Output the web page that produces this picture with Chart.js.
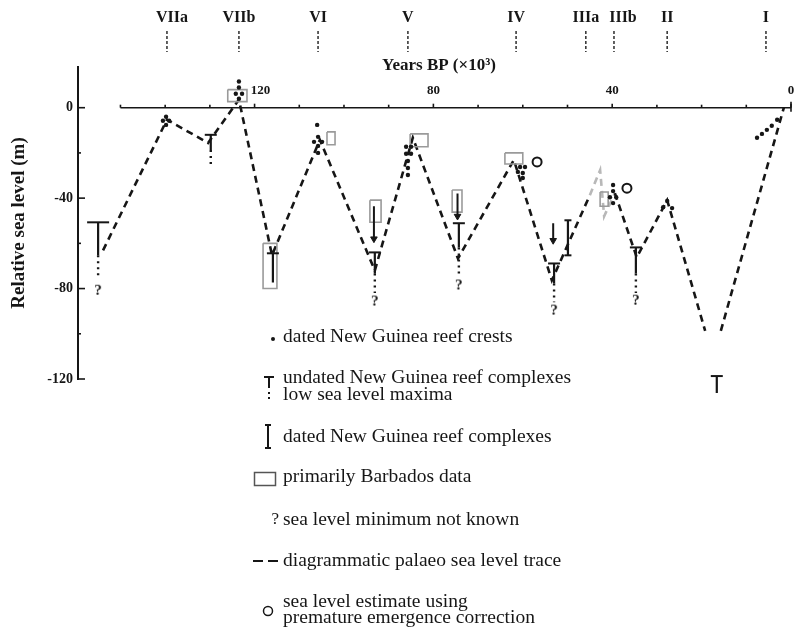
<!DOCTYPE html>
<html>
<head>
<meta charset="utf-8">
<script src="https://cdn.jsdelivr.net/npm/chart.js@4.4.1/dist/chart.umd.min.js"></script>
<style>
  html, body { margin: 0; padding: 0; background: #fff; }
  #wrap { width: 794px; height: 629px; }
</style>
</head>
<body>
<div id="wrap"><canvas id="chart" width="794" height="629"></canvas></div>
<script>
// isotope stages marked along the top (ka)
const stageNames = ['VIIa', 'VIIb', 'VI', 'V', 'IV', 'IIIa', 'IIIb', 'II', 'I'];
const stageAges = [139.6, 123.5, 105.8, 85.7, 61.5, 45.9, 39.6, 27.7, 5.6];

const xTickLabels = [120, 80, 40, 0];
const yTickLabels = [0, -40, -80, -120];

// diagrammatic sea level trace; null breaks the line at the last lowstand
const traceAges = [153.9, 139.6, 130.4, 123.5, 116.1, 105.4, 93.1, 84.6, 74.5, 62.0, 53.5,
  45.0, 42.7, 41.8, 39.4, 34.5, 27.7, 19.2, 17.5, 15.7, 1.6];
const traceLevels = [-63.1, -5.3, -15.6, 3.6, -65.3, -14.2, -72.0, -13.3, -66.7, -23.1, -76.4,
  -38.7, -27.6, -48.0, -37.8, -66.2, -40.9, -98.7, null, -98.7, 0];
// stage IIIa part of the trace is printed lighter
const faintSegments = [11, 12, 13];

// dated New Guinea reef crests
const crestAges = [139.8, 140.5, 139.1, 139.8,
  123.5, 123.5, 124.2, 122.8, 123.5,
  106.0, 105.8, 106.7, 104.9, 105.8, 105.8,
  86.1, 85.0, 86.1, 85.0, 85.7, 85.7, 85.7,
  60.6, 59.5, 61.1, 60.0, 60.0,
  39.8, 39.8, 40.5, 39.1, 39.8,
  27.7, 28.6, 26.6,
  7.6, 6.5, 5.4, 4.3, 3.1];
const crestLevels = [-4.0, -5.8, -5.8, -7.6,
  11.6, 8.9, 6.2, 6.2, 4.0,
  -7.6, -12.9, -15.1, -15.1, -16.9, -20.0,
  -17.3, -17.3, -20.4, -20.4, -23.6, -26.7, -29.8,
  -26.2, -26.2, -28.4, -28.9, -31.1,
  -34.2, -36.9, -39.6, -39.6, -42.2,
  -41.3, -44.0, -44.4,
  -13.3, -11.6, -9.8, -8.0, -5.3];

// undated reef complexes (low sea level maxima): top, solid base, dotted tail
const undatedAges = [155.0, 129.8, 115.9, 93.1, 74.3, 53.0, 34.7, 16.6];
const undatedTops = [-50.7, -12.0, -64.4, -64.0, -51.1, -68.9, -61.8, -118.7];
const undatedBases = [-65.3, -18.7, -77.3, -73.3, -61.8, -77.8, -73.3, -126.2];
const undatedTails = [-74.5, -26.7, null, -82.0, -74.0, -86.0, -82.0, null];

// sea level minimum not known
const unknownAges = [155.0, 93.1, 74.3, 53.0, 34.7];
const unknownLevels = [-80.5, -85.3, -78.2, -89.3, -84.9];

// dated reef complexes
const datedAges = [49.9];
const datedTops = [-49.8];
const datedBases = [-65.3];

// primarily Barbados data (boxes)
const barbadosOld = [126.0, 118.1, 103.8, 94.2, 85.2, 75.8, 64.0, 42.7];
const barbadosYoung = [121.7, 115.0, 102.0, 91.7, 81.2, 73.6, 60.0, 40.9];
const barbadosTop = [8.0, -60.0, -10.7, -40.9, -11.6, -36.4, -20.0, -37.3];
const barbadosBottom = [2.7, -80.0, -16.4, -50.7, -17.3, -46.2, -24.9, -43.6];

// downward arrows
const arrowAges = [93.3, 74.6, 53.2];
const arrowFrom = [-43.6, -38.0, -51.1];
const arrowTo = [-58.0, -48.0, -58.7];

// premature emergence correction estimates
const emergenceAges = [56.8, 36.7];
const emergenceLevels = [-24.0, -35.6];

const SERIF = '"Liberation Serif", "Times New Roman", serif';
const INK = '#161616';

function pts(xs, ys) {
  return xs.map((x, i) => ({ x: x, y: ys[i] }));
}

// vertical sticks separated by gaps
function sticks(xs, y0, y1) {
  const out = [];
  xs.forEach((x, i) => {
    if (y0[i] === null || y1[i] === null) return;
    out.push({ x: x, y: y0[i] }, { x: x, y: y1[i] }, { x: x, y: null });
  });
  return out;
}

function boxes() {
  const out = [];
  barbadosOld.forEach((a, i) => {
    const b = barbadosYoung[i], t = barbadosTop[i], m = barbadosBottom[i];
    out.push({ x: a, y: t }, { x: b, y: t }, { x: b, y: m }, { x: a, y: m }, { x: a, y: t }, { x: a, y: null });
  });
  return out;
}

function glyph(ch, font, w, h) {
  const c = document.createElement('canvas');
  c.width = w;
  c.height = h;
  const g = c.getContext('2d');
  g.font = font;
  g.fillStyle = INK;
  g.textAlign = 'center';
  g.textBaseline = 'middle';
  g.fillText(ch, w / 2, h / 2 + 1);
  return c;
}
const questionMark = glyph('?', 'bold 15px ' + SERIF, 12, 16);

const stageNudge = { VIIa: 5, IIIb: 9 };

const overlay = {
  id: 'overlay',
  beforeDatasetsDraw(chart) {
    const ctx = chart.ctx;
    const xs = chart.scales.x, ys = chart.scales.y;
    const y0 = ys.getPixelForValue(0);
    ctx.save();
    ctx.strokeStyle = INK;
    // time axis along present sea level
    ctx.lineWidth = 1.5;
    ctx.beginPath();
    ctx.moveTo(xs.getPixelForValue(150), y0);
    ctx.lineTo(xs.getPixelForValue(0), y0);
    ctx.stroke();
    ctx.lineWidth = 1.6;
    for (let a = 150; a >= 0; a -= 10) {
      const px = xs.getPixelForValue(a);
      ctx.beginPath();
      ctx.moveTo(px, y0);
      ctx.lineTo(px, a % 40 === 0 ? y0 - 4 : y0 - 3);
      ctx.stroke();
    }
    const p0 = xs.getPixelForValue(0);
    ctx.beginPath();
    ctx.moveTo(p0, y0 - 6);
    ctx.lineTo(p0, y0 + 4);
    ctx.stroke();
    // inward ticks on the sea level axis
    const left = chart.chartArea.left;
    for (let v = 0; v >= -120; v -= 20) {
      const py = ys.getPixelForValue(v);
      ctx.beginPath();
      ctx.moveTo(left, py);
      ctx.lineTo(left + (v % 40 === 0 ? 7 : 3), py);
      ctx.stroke();
    }
    ctx.restore();
  },
  afterDraw(chart) {
    const ctx = chart.ctx;
    const xs = chart.scales.x, ys = chart.scales.y;
    const y0 = ys.getPixelForValue(0);
    ctx.save();
    ctx.fillStyle = INK;
    ctx.strokeStyle = INK;
    ctx.textAlign = 'center';
    ctx.textBaseline = 'middle';

    ctx.font = 'bold 13px ' + SERIF;
    xTickLabels.forEach(v => {
      ctx.fillText(String(v), xs.getPixelForValue(v) + (v === 120 ? 6 : 0), y0 - 17);
    });
    ctx.font = 'bold 17px ' + SERIF;
    ctx.fillText('Years BP (\u00d710\u00b3)', 439, 66);

    // stage markers
    ctx.font = 'bold 16px ' + SERIF;
    stageNames.forEach((name, i) => {
      const px = xs.getPixelForValue(stageAges[i]);
      ctx.fillText(name, px + (stageNudge[name] || 0), 18);
      ctx.save();
      ctx.lineWidth = 1.6;
      ctx.strokeStyle = '#3a3a3a';
      ctx.setLineDash([3, 2]);
      ctx.beginPath();
      ctx.moveTo(px, 31);
      ctx.lineTo(px, 52);
      ctx.stroke();
      ctx.restore();
    });

    // key
    const tx = 283;
    ctx.textAlign = 'left';
    ctx.font = '19.5px ' + SERIF;
    ctx.fillText('dated New Guinea reef crests', tx, 337);
    ctx.fillText('undated New Guinea reef complexes', tx, 378);
    ctx.fillText('low sea level maxima', tx, 395);
    ctx.fillText('dated New Guinea reef complexes', tx, 437);
    ctx.fillText('primarily Barbados data', tx, 477);
    ctx.fillText('sea level minimum not known', tx, 520);
    ctx.fillText('diagrammatic palaeo sea level trace', tx, 561);
    ctx.fillText('sea level estimate using', tx, 602);
    ctx.fillText('premature emergence correction', tx, 618);

    ctx.beginPath();
    ctx.arc(273, 339, 2, 0, Math.PI * 2);
    ctx.fill();

    ctx.lineWidth = 2;
    ctx.beginPath();
    ctx.moveTo(264, 377); ctx.lineTo(274, 377);
    ctx.moveTo(269, 377); ctx.lineTo(269, 388);
    ctx.moveTo(265, 425); ctx.lineTo(271, 425);
    ctx.moveTo(268, 425); ctx.lineTo(268, 448);
    ctx.moveTo(265, 448); ctx.lineTo(271, 448);
    ctx.moveTo(253, 561); ctx.lineTo(263, 561);
    ctx.moveTo(268, 561); ctx.lineTo(278, 561);
    ctx.stroke();
    ctx.fillRect(268, 392, 2, 2);
    ctx.fillRect(268, 397, 2, 2);

    ctx.lineWidth = 1.5;
    ctx.strokeStyle = '#555';
    ctx.strokeRect(254.5, 472.5, 21, 13);
    ctx.strokeStyle = INK;
    ctx.beginPath();
    ctx.arc(268, 611, 4.5, 0, Math.PI * 2);
    ctx.stroke();

    ctx.font = '17px ' + SERIF;
    ctx.textAlign = 'right';
    ctx.fillText('?', 279, 520);
    ctx.restore();
  }
};

new Chart(document.getElementById('chart'), {
  type: 'scatter',
  data: {
    datasets: [
      {
        label: 'crests',
        data: pts(crestAges, crestLevels),
        pointRadius: 2.2,
        pointBackgroundColor: INK,
        pointBorderWidth: 0,
        clip: false
      },
      {
        label: 'emergence',
        data: pts(emergenceAges, emergenceLevels),
        pointRadius: 4.5,
        pointBackgroundColor: '#fff',
        pointBorderColor: INK,
        pointBorderWidth: 2,
        clip: false
      },
      {
        label: 'unknown',
        data: pts(unknownAges, unknownLevels),
        pointStyle: questionMark,
        clip: false
      },
      {
        label: 'arrow heads',
        data: pts(arrowAges, arrowTo),
        pointStyle: 'triangle',
        rotation: 180,
        pointRadius: 3.8,
        pointBackgroundColor: INK,
        pointBorderColor: INK,
        pointBorderWidth: 1,
        clip: false
      },
      {
        label: 'arrow shafts',
        data: sticks(arrowAges, arrowFrom, arrowTo),
        showLine: true,
        borderColor: INK,
        borderWidth: 2,
        pointRadius: 0,
        clip: false
      },
      {
        label: 'undated caps',
        data: pts(undatedAges, undatedTops),
        pointStyle: 'line',
        // the oldest complex has a wider cap
        pointRadius: c => c.dataIndex === 0 ? 11 : 6,
        pointBorderColor: INK,
        pointBorderWidth: 2,
        clip: false
      },
      {
        label: 'undated',
        data: sticks(undatedAges, undatedTops, undatedBases),
        showLine: true,
        borderColor: INK,
        borderWidth: 2.2,
        pointRadius: 0,
        clip: false
      },
      {
        label: 'undated tails',
        data: sticks(undatedAges, undatedBases, undatedTails),
        showLine: true,
        borderColor: INK,
        borderWidth: 2.4,
        borderDash: [2, 4],
        pointRadius: 0,
        clip: false
      },
      {
        label: 'dated caps',
        data: pts(datedAges, datedTops).concat(pts(datedAges, datedBases)),
        pointStyle: 'line',
        pointRadius: 3.5,
        pointBorderColor: INK,
        pointBorderWidth: 2,
        clip: false
      },
      {
        label: 'dated',
        data: sticks(datedAges, datedTops, datedBases),
        showLine: true,
        borderColor: INK,
        borderWidth: 2.2,
        pointRadius: 0,
        clip: false
      },
      {
        label: 'Barbados',
        data: boxes(),
        showLine: true,
        borderColor: '#9a9a9a',
        borderWidth: 1.6,
        pointRadius: 0,
        clip: false
      },
      {
        label: 'trace',
        data: pts(traceAges, traceLevels),
        showLine: true,
        borderColor: INK,
        borderWidth: 2.6,
        borderDash: [7, 5],
        pointRadius: 0,
        segment: {
          borderColor: c => faintSegments.includes(c.p0DataIndex) ? '#b8b8b8' : INK
        },
        clip: false
      }
    ]
  },
  options: {
    responsive: false,
    animation: false,
    devicePixelRatio: 1,
    events: [],
    layout: { autoPadding: false, padding: { left: 0, top: 67, right: 3, bottom: 250 } },
    plugins: {
      legend: { display: false },
      tooltip: { enabled: false }
    },
    scales: {
      x: {
        type: 'linear',
        reverse: true,
        min: 0,
        max: 159.5,
        display: false
      },
      y: {
        type: 'linear',
        min: -120,
        max: 18,
        afterFit: s => { s.width = 78; },
        grid: { display: false, drawTicks: false },
        border: { display: true, color: INK, width: 2 },
        ticks: {
          stepSize: 20,
          includeBounds: false,
          padding: 5,
          color: INK,
          font: { family: SERIF, size: 14, weight: 'bold' },
          callback: v => yTickLabels.includes(v) ? String(v) : ''
        },
        title: {
          display: true,
          text: 'Relative sea level (m)',
          color: INK,
          font: { family: SERIF, size: 19, weight: 'bold' },
          padding: { top: 8, bottom: 0 }
        }
      }
    }
  },
  plugins: [overlay]
});
</script>
</body>
</html>
